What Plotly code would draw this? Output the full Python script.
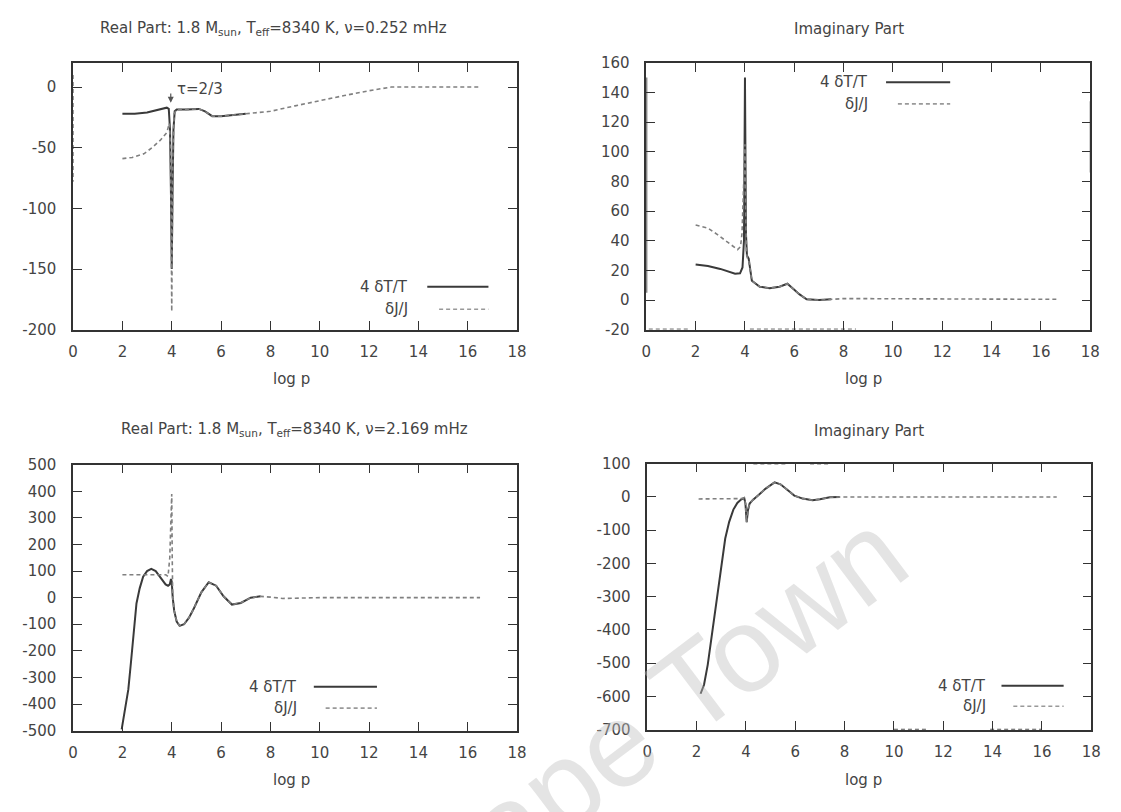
import plotly.graph_objects as go

W, H = 1121, 812

# ---------------- data ----------------
# Top-left: Real part, nu = 0.252 mHz
TL_T_x = [2.0, 2.5, 3.0, 3.3, 3.6, 3.8, 3.88, 3.93, 3.97, 4.0, 4.03, 4.07, 4.12, 4.2, 4.6, 5.1, 5.35, 5.64, 6.0, 6.5, 7.0]
TL_T_y = [-22, -22, -21, -19.5, -17.5, -17, -18, -35, -90, -150, -90, -35, -20, -18.5, -18.5, -18, -20, -24, -24, -23, -22]
TL_J_x = [2.0, 2.4, 2.87, 3.2, 3.53, 3.8, 3.9, 3.95, 3.98, 4.0, 4.02, 4.05, 4.1, 4.2, 4.6, 5.1, 5.35, 5.64, 6.0, 7.0, 8.0, 9.0, 10.0, 11.0, 12.0, 12.9, 14.0, 15.0, 16.5]
TL_J_y = [-59, -58, -55, -50, -44, -37.5, -30, -50, -120, -185, -130, -50, -22, -18.5, -18.5, -18, -20, -24, -24, -22, -20, -15.5, -11, -7, -3, 0, 0, 0, 0]
TL_edge_x = [0.0, 0.0]
TL_edge_y = [10, -78]

# Top-right: Imaginary part, nu = 0.252 mHz
TR_T_x = [2.0, 2.5, 3.0, 3.3, 3.6, 3.8, 3.9, 3.96, 4.0, 4.04, 4.08, 4.15, 4.28, 4.6, 5.0, 5.4, 5.72, 6.0, 6.2, 6.5, 7.0, 7.5]
TR_T_y = [24, 23, 21, 19.5, 17.8, 18, 22, 40, 150, 45, 30, 28, 13, 9, 8, 9, 11, 7, 4, 0.5, 0, 0.5]
TR_J_x = [2.0, 2.5, 2.9, 3.3, 3.7, 3.82, 3.88, 3.93, 3.97, 4.0, 4.03, 4.06, 4.1, 4.15, 4.28, 4.6, 5.0, 5.4, 5.72, 6.0, 6.2, 6.5, 7.0, 8.0, 9.0, 10.0, 12.0, 14.0, 16.7]
TR_J_y = [50.6, 48.5, 44, 39, 34, 36, 45, 70, 95, 105, 60, 32, 28, 27, 13, 9, 8, 9, 11, 7, 4, 0.5, 0, 1, 1, 0.8, 0.5, 0.5, 0.5]
TR_edge_x = [0.0, 0.0]
TR_edge_y = [150, 5]
TR_low_x = [0.1, 1.7, None, 4.2, 8.5]
TR_low_y = [-19.6, -19.6, None, -19.6, -19.6]
TR_right_x = [18.0, 18.0]
TR_right_y = [134, 86]

# Bottom-left: Real part, nu = 2.169 mHz
BL_T_x = [1.97, 2.1, 2.24, 2.35, 2.44, 2.57, 2.7, 2.84, 3.0, 3.17, 3.35, 3.55, 3.75, 3.85, 3.92, 3.97, 4.0, 4.04, 4.1, 4.2, 4.32, 4.5, 4.7, 4.9, 5.2, 5.5, 5.8, 6.1, 6.44, 6.8, 7.2, 7.6]
BL_T_y = [-495, -420, -345, -240, -146, -22, 35, 79, 100, 108, 100, 75, 50, 45, 50, 70, 60, 0, -50, -90, -106, -100, -75, -40, 20, 58, 45, 5, -26, -20, 0, 5]
BL_J_x = [2.0, 2.5, 3.0, 3.5, 3.76, 3.85, 3.92, 3.97, 4.0, 4.02, 4.04, 4.1, 4.2, 4.32, 4.5, 4.7, 4.9, 5.2, 5.5, 5.8, 6.1, 6.44, 6.8, 7.2, 7.6, 8.0, 8.5, 9.0, 10.0, 12.0, 14.0, 16.5]
BL_J_y = [86, 86, 86, 86, 86, 80, 150, 300, 390, 150, 0, -50, -90, -106, -100, -75, -40, 20, 58, 45, 5, -26, -20, 0, 5, 2, -3, -2, 0, 0, 0, 0]

# Bottom-right: Imaginary part, nu = 2.169 mHz
BR_T_x = [2.16, 2.3, 2.45, 2.56, 2.72, 2.89, 3.02, 3.16, 3.32, 3.49, 3.65, 3.8, 3.93, 3.98, 4.03, 4.08, 4.15, 4.28, 4.5, 4.8, 5.16, 5.4, 5.7, 5.96, 6.3, 6.7, 7.0, 7.4, 7.8]
BR_T_y = [-592, -565, -505, -446, -350, -261, -190, -125, -75, -38, -18, -8, -3, -20, -76, -40, -20, -9, 5, 25, 44, 38, 20, 4, -5, -10, -7, -1, 0]
BR_J_x = [2.08, 2.5, 3.0, 3.6, 3.8, 3.93, 3.98, 4.03, 4.08, 4.15, 4.28, 4.5, 4.8, 5.16, 5.4, 5.7, 5.96, 6.3, 6.7, 7.0, 7.4, 8.0, 9.0, 10.0, 12.0, 14.0, 16.6]
BR_J_y = [-6, -6, -6, -6, -5, -3, -20, -76, -40, -20, -9, 5, 25, 44, 38, 20, 4, -5, -10, -7, -1, 0, 0, 0, 0, 0, 0]
BR_top_x = [4.3, 5.6, None, 6.6, 7.4]
BR_top_y = [99, 99, None, 99, 99]
BR_bot_x = [10.0, 11.4, None, 13.9, 16.0]
BR_bot_y = [-699, -699, None, -699, -699]

X_TICKS = list(range(0, 19, 2))
TL_Y_TICKS = [-200, -150, -100, -50, 0]
TR_Y_TICKS = list(range(-20, 161, 20))
BL_Y_TICKS = list(range(-500, 501, 100))
BR_Y_TICKS = list(range(-700, 101, 100))

TITLES = [
    "Real Part: 1.8 M<sub>sun</sub>, T<sub>eff</sub>=8340 K, ν=0.252 mHz",
    "Imaginary Part",
    "Real Part: 1.8 M<sub>sun</sub>, T<sub>eff</sub>=8340 K, ν=2.169 mHz",
    "Imaginary Part",
]
LEG_T = "4 δT/T"
LEG_J = "δJ/J"

# ---------------- styling ----------------
FONT = "DejaVu Sans"
TXT = "#444444"
C_T = "#3a3a3a"
C_J = "#808080"

def px(x):
    return x / W

def py(y):
    return 1 - y / H

fig = go.Figure()

def solid(x, y, xa, ya, color=C_T, width=2.0):
    fig.add_trace(go.Scatter(x=x, y=y, mode="lines", xaxis=xa, yaxis=ya,
                             line=dict(color=color, width=width), showlegend=False,
                             hoverinfo="skip"))

def dashed(x, y, xa, ya, color=C_J, width=1.6):
    fig.add_trace(go.Scatter(x=x, y=y, mode="lines", xaxis=xa, yaxis=ya,
                             line=dict(color=color, width=width, dash="4px,3px"),
                             showlegend=False, hoverinfo="skip", connectgaps=False))

# top-left
dashed(TL_edge_x, TL_edge_y, "x", "y", color="#777777", width=1.4)
solid(TL_T_x, TL_T_y, "x", "y")
dashed(TL_J_x, TL_J_y, "x", "y")
# top-right
solid(TR_edge_x, TR_edge_y, "x2", "y2", color="#555555", width=2.0)
dashed(TR_low_x, TR_low_y, "x2", "y2", color="#777777", width=1.2)
solid(TR_right_x, TR_right_y, "x2", "y2", color="#777777", width=1.2)
solid(TR_T_x, TR_T_y, "x2", "y2")
dashed(TR_J_x, TR_J_y, "x2", "y2")
# bottom-left
solid(BL_T_x, BL_T_y, "x3", "y3")
dashed(BL_J_x, BL_J_y, "x3", "y3")
# bottom-right
dashed(BR_top_x, BR_top_y, "x4", "y4", color="#777777", width=1.2)
dashed(BR_bot_x, BR_bot_y, "x4", "y4", color="#555555", width=1.4)
solid(BR_T_x, BR_T_y, "x4", "y4")
dashed(BR_J_x, BR_J_y, "x4", "y4")

axis_common = dict(showline=True, linecolor="#333333", linewidth=1.5, mirror="ticks",
                   ticks="inside", ticklen=9, tickwidth=1.2, tickcolor="#333333",
                   showgrid=False, zeroline=False,
                   tickfont=dict(family=FONT, size=15, color=TXT))

# panel frames in pixels: (left, right, top, bottom)
panels = {
    1: (69, 519, 55, 328),
    2: (650, 1100, 55, 328),
    3: (69, 519, 466, 738),
    4: (651, 1101, 465, 737),
}
yranges = {1: [-200, 20], 2: [-20, 160], 3: [-500, 500], 4: [-700, 100]}
yticks = {1: TL_Y_TICKS, 2: TR_Y_TICKS, 3: BL_Y_TICKS, 4: BR_Y_TICKS}

layout = dict(width=W, height=H, margin=dict(l=0, r=0, t=0, b=0), autosize=False,
              paper_bgcolor="white", plot_bgcolor="white", showlegend=False)
for i, (l, r, t, b) in panels.items():
    sfx = "" if i == 1 else str(i)
    layout["xaxis" + sfx] = dict(axis_common, domain=[px(l), px(r)], range=[0, 18],
                                 tickvals=X_TICKS, ticktext=[str(v) for v in X_TICKS],
                                 anchor="y" + sfx, ticklabelstandoff=8)
    layout["yaxis" + sfx] = dict(axis_common, domain=[py(b), py(t)], range=yranges[i],
                                 tickvals=yticks[i], ticktext=[str(v) for v in yticks[i]],
                                 anchor="x" + sfx, ticklabelstandoff=12)
fig.update_layout(**layout)

ann = []
title_pos = [(272, 20), (855, 20), (293, 430), (876, 432)]
for (cx, cy), text in zip(title_pos, TITLES):
    ann.append(dict(x=px(cx), y=py(cy), xref="paper", yref="paper", text=text,
                    showarrow=False, xanchor="center", yanchor="middle",
                    font=dict(family=FONT, size=15, color=TXT)))
for cx, cy in [(290, 378), (870, 378), (290, 788), (870, 788)]:
    ann.append(dict(x=px(cx), y=py(cy), xref="paper", yref="paper", text="log p",
                    showarrow=False, xanchor="center", yanchor="middle",
                    font=dict(family=FONT, size=15, color=TXT)))

# legends: (text right edge, y of first row, y of second row, line start, line end)
legends = [(410, 284, 307, 428, 490), (877, 75, 97, 893, 958),
           (298, 693, 715, 313, 377), (996, 692, 713, 1010, 1073)]
shapes = []
for xr, y1, y2, l0, l1 in legends:
    ann.append(dict(x=px(xr), y=py(y1), xref="paper", yref="paper", text=LEG_T,
                    showarrow=False, xanchor="right", yanchor="middle",
                    font=dict(family=FONT, size=15, color=TXT)))
    ann.append(dict(x=px(xr), y=py(y2), xref="paper", yref="paper", text=LEG_J,
                    showarrow=False, xanchor="right", yanchor="middle",
                    font=dict(family=FONT, size=15, color=TXT)))
    shapes.append(dict(type="line", xref="paper", yref="paper", x0=px(l0), x1=px(l1),
                       y0=py(y1), y1=py(y1), line=dict(color=C_T, width=2.0)))
    shapes.append(dict(type="line", xref="paper", yref="paper", x0=px(l0 + 12), x1=px(l1),
                       y0=py(y2), y1=py(y2), line=dict(color="#999999", width=1.6, dash="4px,3px")))

# tau = 2/3 label and arrow in the top-left panel
ann.append(dict(x=5.13, y=-1.5, xref="x", yref="y", text="τ=2/3", showarrow=False,
                xanchor="center", yanchor="middle", font=dict(family=FONT, size=15, color=TXT)))
ann.append(dict(x=3.96, y=-13, xref="x", yref="y", ax=3.96, ay=-4, axref="x", ayref="y",
                text="", showarrow=True, arrowhead=2, arrowsize=1, arrowwidth=1.2,
                arrowcolor="#555555"))

# watermark
ann.append(dict(x=px(655), y=py(725), xref="paper", yref="paper", text="Cape Town",
                showarrow=False, textangle=-37, xanchor="center", yanchor="middle",
                font=dict(family="Liberation Sans", size=120, color="rgba(190,190,190,0.42)")))

fig.update_layout(annotations=ann, shapes=shapes)
fig.write_html("out.html")
